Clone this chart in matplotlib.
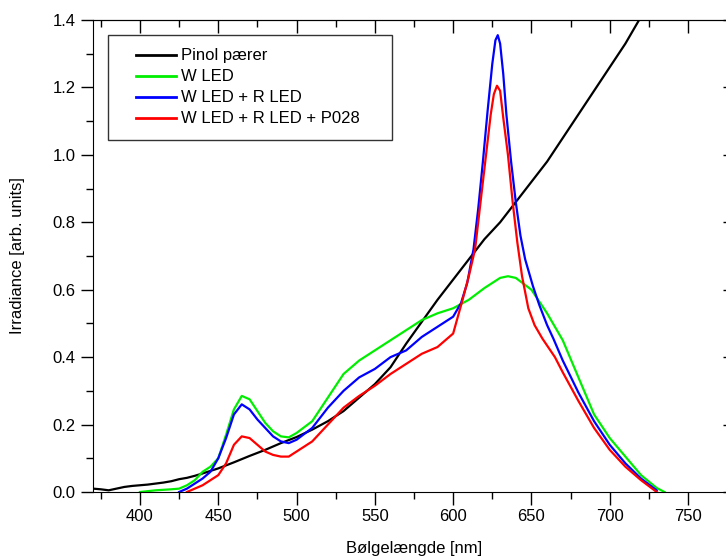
import matplotlib.pyplot as plt
from matplotlib.ticker import MultipleLocator
from matplotlib.legend_handler import HandlerLine2D

plt.rcParams['font.family'] = ['Liberation Sans', 'DejaVu Sans']

# Pinol pærer (sort)
wl_pinol = [370, 375, 380, 385, 390, 395, 400, 405, 410, 415, 420, 425, 430, 435, 440,
            450, 460, 470, 480, 490, 500, 510, 520, 530, 540, 550, 560, 570, 580,
            590, 600, 610, 620, 630, 640, 650, 660, 670, 680, 690, 700, 710, 720, 730]
irr_pinol = [0.01, 0.008, 0.005, 0.01, 0.015, 0.018, 0.02, 0.022, 0.025, 0.028, 0.032, 0.038, 0.042, 0.048, 0.055,
             0.07, 0.088, 0.107, 0.125, 0.145, 0.163, 0.185, 0.21, 0.24, 0.28, 0.32, 0.37, 0.44, 0.505,
             0.57, 0.63, 0.69, 0.75, 0.80, 0.86, 0.92, 0.98, 1.05, 1.12, 1.19, 1.26, 1.33, 1.41, 1.49]

# W LED (grøn)
wl_w = [400, 410, 420, 425, 430, 435, 440, 445, 450, 455, 460, 465, 470, 475, 480, 485, 490, 495,
        500, 510, 520, 530, 540, 550, 560, 570, 580, 590, 600, 610, 620, 630, 635, 640, 650,
        660, 670, 680, 690, 700, 710, 720, 730, 735]
irr_w = [0.0, 0.005, 0.008, 0.01, 0.02, 0.035, 0.06, 0.075, 0.10, 0.17, 0.245, 0.285, 0.275, 0.24, 0.205, 0.18, 0.165, 0.162,
         0.175, 0.21, 0.28, 0.35, 0.39, 0.42, 0.45, 0.48, 0.51, 0.53, 0.545, 0.57, 0.605, 0.635, 0.64, 0.635, 0.60,
         0.53, 0.45, 0.34, 0.23, 0.16, 0.105, 0.05, 0.012, 0.0]

# W LED + R LED (blå)
wl_wr = [425, 430, 435, 440, 445, 450, 455, 460, 465, 470, 475, 480, 485, 490, 495,
         500, 510, 520, 530, 540, 550, 560, 570, 580, 590, 600, 605, 609, 613, 616, 619, 622,
         625, 627, 628.5, 630, 632, 634, 637, 640, 643, 646, 651, 655, 660, 664, 670, 680, 690,
         700, 710, 720, 730]
irr_wr = [0.0, 0.01, 0.025, 0.04, 0.06, 0.10, 0.16, 0.23, 0.26, 0.245, 0.215, 0.19, 0.165, 0.15, 0.145,
          0.155, 0.19, 0.25, 0.30, 0.34, 0.365, 0.40, 0.42, 0.46, 0.49, 0.52, 0.56, 0.62, 0.72, 0.84, 0.98, 1.13,
          1.27, 1.34, 1.355, 1.33, 1.24, 1.12, 0.98, 0.86, 0.76, 0.69, 0.61, 0.555, 0.495, 0.455, 0.39, 0.295, 0.21,
          0.14, 0.085, 0.04, 0.005]

# W LED + R LED + P028 (rød)
wl_wrp = [430, 435, 440, 445, 450, 455, 460, 465, 470, 475, 480, 485, 490, 495,
          500, 510, 520, 530, 540, 550, 560, 570, 580, 590, 600, 606, 610, 614, 618, 621, 624,
          626, 628, 630, 632, 635, 638, 641, 644, 648, 652, 657, 665, 670, 680, 690,
          700, 710, 720, 730]
irr_wrp = [0.0, 0.01, 0.02, 0.035, 0.05, 0.085, 0.14, 0.165, 0.16, 0.14, 0.12, 0.11, 0.105, 0.105,
           0.12, 0.15, 0.20, 0.25, 0.285, 0.315, 0.35, 0.38, 0.41, 0.43, 0.47, 0.57, 0.64, 0.72, 0.88, 1.0, 1.12,
           1.18, 1.205, 1.19, 1.11, 1.0, 0.86, 0.74, 0.64, 0.545, 0.495, 0.455, 0.40, 0.355, 0.27, 0.19,
           0.125, 0.075, 0.035, 0.0]


class HandlerShortLine(HandlerLine2D):
    # legendelinje kun i højre del af handleboksen
    def get_xdata(self, legend, xdescent, ydescent, width, height, fontsize):
        x0 = -xdescent + width * 0.27
        x1 = -xdescent + width
        return [x0, x1], [x0, x1]


fig = plt.figure(figsize=(7.26, 5.56), dpi=100)
ax = fig.add_axes([93 / 726, 64 / 556, 642 / 726, 472 / 556])

ax.plot(wl_pinol, irr_pinol, color='black', lw=1.6, label='Pinol pærer')
ax.plot(wl_w, irr_w, color='#00ee00', lw=1.6, label='W LED')
ax.plot(wl_wr, irr_wr, color='#0000ff', lw=1.6, label='W LED + R LED')
ax.plot(wl_wrp, irr_wrp, color='#ff0000', lw=1.6, label='W LED + R LED + P028    ')

ax.set_xlim(370, 780)
ax.set_ylim(0, 1.4)
ax.xaxis.set_major_locator(MultipleLocator(50))
ax.xaxis.set_minor_locator(MultipleLocator(25))
ax.yaxis.set_major_locator(MultipleLocator(0.2))
ax.yaxis.set_minor_locator(MultipleLocator(0.1))
ax.yaxis.set_major_formatter(lambda v, p: f"{v:.1f}")
ax.tick_params(which='major', direction='out', length=9, width=1, labelsize=12)
ax.tick_params(which='minor', direction='out', length=5, width=1)

# spejlede akser med ticks indad
top = ax.secondary_xaxis('top')
top.xaxis.set_major_locator(MultipleLocator(50))
top.xaxis.set_minor_locator(MultipleLocator(25))
top.tick_params(which='major', direction='in', length=9, width=1, labeltop=False)
top.tick_params(which='minor', direction='in', length=5, width=1)
right = ax.secondary_yaxis('right')
right.yaxis.set_major_locator(MultipleLocator(0.2))
right.yaxis.set_minor_locator(MultipleLocator(0.1))
right.tick_params(which='major', direction='in', length=9, width=1, labelright=False)
right.tick_params(which='minor', direction='in', length=5, width=1)

ax.set_xlabel('Bølgelængde [nm]', fontsize=12, labelpad=12)
ax.set_ylabel('Irradiance [arb. units]', fontsize=12, labelpad=20)

leg = ax.legend(loc='upper left', bbox_to_anchor=(0.023, 0.968), fancybox=False,
                edgecolor='black', fontsize=12, handlelength=3.3, handletextpad=0.3,
                labelspacing=0.36, borderpad=0.8, borderaxespad=0,
                handler_map={plt.Line2D: HandlerShortLine()})
leg.get_frame().set_linewidth(1)
for line in leg.get_lines():
    line.set_linewidth(2)

plt.savefig('out.png', dpi=100)
